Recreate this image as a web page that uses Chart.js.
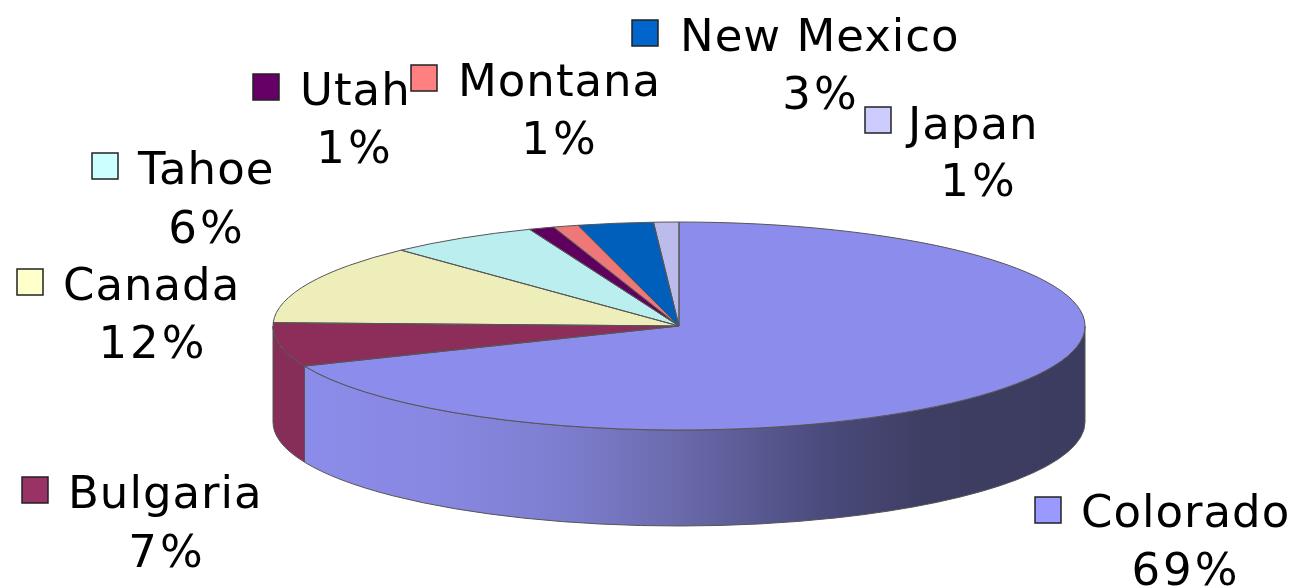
<!DOCTYPE html>
<html>
<head>
<meta charset="utf-8">
<title>Pie</title>
<script src="https://cdn.jsdelivr.net/npm/chart.js@4/dist/chart.umd.min.js"></script>
<style>
  html, body { margin: 0; padding: 0; background: #fff; overflow: hidden; }
  #wrap { width: 1294px; height: 588px; }
</style>
</head>
<body>
<div id="wrap"><canvas id="pie" width="1294" height="588"></canvas></div>
<script>
// data, clockwise from 12 o'clock
const categories = ['Colorado', 'Bulgaria', 'Canada', 'Tahoe', 'Utah', 'Montana', 'New Mexico', 'Japan'];
const shares = [68.7, 6.81, 12.49, 6, 1, 1, 3, 1];
const swatchColors = ['#9999ff', '#993366', '#ffffcc', '#ccffff', '#660066', '#ff8080', '#0066cc', '#ccccff'];
const faceColors = ['#8c8cec', '#8c2d5a', '#eeeebb', '#bbeeee', '#5f005f', '#ee7777', '#005fbb', '#bcbcec'];

// label layout, same order as categories
const swatchX = [1035, 22, 17, 92, 253, 411, 632, 865];
const swatchY = [497, 477, 269, 153, 74, 65, 20, 107];
const nameX = [1081, 68, 63, 138, 300, 458, 680, 908];
const nameBaseline = [527, 508, 300, 184, 105, 96, 51, 139];
const pctCenterX = [1186, 167, 153, 207, 355, 560, 821, 979];
const pctBaseline = [585, 567, 358, 243, 163, 154, 109, 196];

// pie geometry
const RX = 406;
const RY = 104;
const DEPTH = 96;
const SWATCH = 26;
const FONT = '45px "DejaVu Sans"';

function wallPath(ctx, cx, cy, a0, a1) {
	ctx.beginPath();
	ctx.ellipse(cx, cy, RX, RY, 0, a0, a1);
	ctx.ellipse(cx, cy + DEPTH, RX, RY, 0, a1, a0, true);
	ctx.closePath();
}

const pie3d = {
	id: 'pie3d',
	beforeDatasetsDraw(chart) {
		const ctx = chart.ctx;
		const arcs = chart.getDatasetMeta(0).data;
		const cx = arcs[0].x, cy = arcs[0].y;

		// front wall, only the part of each slice facing the viewer
		const shade = ctx.createLinearGradient(cx - RX, 0, cx + RX, 0);
		shade.addColorStop(0, '#8c8cec');
		shade.addColorStop(0.2, '#8888e2');
		shade.addColorStop(0.36, '#7d7dcf');
		shade.addColorStop(0.5, '#6a6aac');
		shade.addColorStop(0.68, '#4a4a7c');
		shade.addColorStop(0.8, '#3e3e64');
		shade.addColorStop(1, '#3c3c60');

		arcs.forEach((arc, i) => {
			const a0 = Math.max(arc.startAngle, 0);
			const a1 = Math.min(arc.endAngle, Math.PI);
			if (a1 <= a0) return;
			wallPath(ctx, cx, cy, a0, a1);
			ctx.fillStyle = i === 0 ? shade : '#862d58';
			ctx.fill();
			ctx.strokeStyle = '#555';
			ctx.lineWidth = 1;
			ctx.stroke();
		});

		// squash the round pie into the tilted top face
		ctx.save();
		ctx.translate(cx, cy);
		ctx.scale(1, RY / RX);
		ctx.translate(-cx, -cy);
	},
	afterDatasetsDraw(chart) {
		const ctx = chart.ctx;
		const arcs = chart.getDatasetMeta(0).data;
		const cx = arcs[0].x, cy = arcs[0].y;
		ctx.restore();

		// slice outlines, after the restore so the pen stays round
		ctx.strokeStyle = '#555';
		ctx.lineWidth = 1;
		arcs.forEach(arc => {
			ctx.beginPath();
			ctx.moveTo(cx, cy);
			ctx.ellipse(cx, cy, RX, RY, 0, arc.startAngle, arc.endAngle);
			ctx.closePath();
			ctx.stroke();
		});
	},
	afterDraw(chart) {
		const ctx = chart.ctx;
		ctx.save();
		ctx.font = FONT;
		ctx.textBaseline = 'alphabetic';
		categories.forEach((name, i) => {
			ctx.fillStyle = swatchColors[i];
			ctx.fillRect(swatchX[i], swatchY[i], SWATCH, SWATCH);
			ctx.strokeStyle = '#222';
			ctx.lineWidth = 1.5;
			ctx.strokeRect(swatchX[i], swatchY[i], SWATCH, SWATCH);

			ctx.fillStyle = '#000';
			ctx.letterSpacing = '1px';
			ctx.textAlign = 'left';
			ctx.fillText(name, nameX[i], nameBaseline[i]);
			ctx.letterSpacing = '3px';
			ctx.textAlign = 'center';
			ctx.fillText(Math.round(shares[i]) + '%', pctCenterX[i], pctBaseline[i]);
		});
		ctx.restore();
	}
};

new Chart(document.getElementById('pie'), {
	type: 'pie',
	data: {
		labels: categories,
		datasets: [{
			data: shares,
			backgroundColor: faceColors,
			borderWidth: 0,
			clip: false
		}]
	},
	options: {
		responsive: false,
		animation: false,
		radius: RX,
		// puts the pie centre at 679,326
		layout: { padding: { left: 64, top: 64, right: 0, bottom: 0 } },
		plugins: {
			legend: { display: false },
			tooltip: { enabled: false }
		}
	},
	plugins: [pie3d]
});
</script>
</body>
</html>
